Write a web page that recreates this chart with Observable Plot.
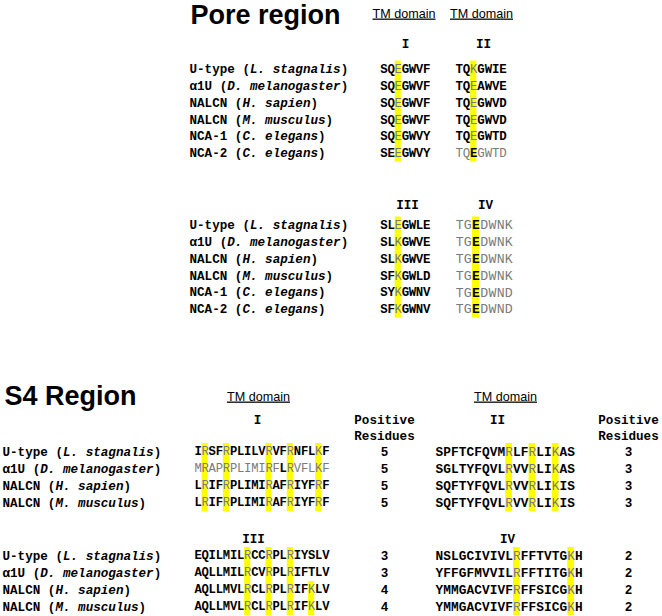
<!DOCTYPE html>
<html><head><meta charset="utf-8">
<script src="https://cdn.jsdelivr.net/npm/d3@7"></script>
<script src="https://cdn.jsdelivr.net/npm/@observablehq/plot@0.6"></script>
<style>body{margin:0;background:#fff}#chart svg{display:block}</style>
</head><body><div id="chart"></div>
<script>
// ---------------- data ----------------
const poreChannels = ["U-type", "α1U", "NALCN", "NALCN", "NCA-1", "NCA-2"];
const poreSpecies = ["L. stagnalis", "D. melanogaster", "H. sapien", "M. musculus", "C. elegans", "C. elegans"];
const poreI   = ["SQEGWVF", "SQEGWVF", "SQEGWVF", "SQEGWVF", "SQEGWVY", "SEEGWVY"];
const poreII  = ["TQKGWIE", "TQEAWVE", "TQEGWVD", "TQEGWVD", "TQEGWTD", "TQEGWTD"];
const poreIII = ["SLEGWLE", "SLKGWVE", "SLKGWVE", "SFKGWLD", "SYKGWNV", "SFKGWNV"];
const poreIV  = ["TGEDWNK", "TGEDWNK", "TGEDWNK", "TGEDWNK", "TGEDWND", "TGEDWND"];
const poreSite = 3;                                   // highlighted (selectivity filter) residue, 1-based
const poreGreyII = [false, false, false, false, false, true];   // sequences printed in grey
const poreGreyIV = [true, true, true, true, true, true];

const s4Channels = ["U-type", "α1U", "NALCN", "NALCN"];
const s4Species = ["L. stagnalis", "D. melanogaster", "H. sapien", "M. musculus"];
const s4I   = ["IRSFRPLILVRVFRNFLKF", "MRAPRPLIMIRFLRVFLKF", "LRIFRPLIMIRAFRIYFRF", "LRIFRPLIMIRAFRIYFRF"];
const s4II  = ["SPFTCFQVMRLFRLIKAS", "SGLTYFQVLRVVRLIKAS", "SQFTYFQVLRVVRLIKIS", "SQFTYFQVLRVVRLIKIS"];
const s4III = ["EQILMILRCCRPLRIYSLV", "AQLLMILRCVRPLRIFTLV", "AQLLMVLRCLRPLRIFKLV", "AQLLMVLRCLRPLRIFKLV"];
const s4IV  = ["NSLGCIVIVLRFFTVTGKH", "YFFGFMVVILRFFTITGKH", "YMMGACVIVFRFFSICGKH", "YMMGACVIVFRFFSICGKH"];
const s4CountI   = [5, 5, 5, 5];
const s4CountII  = [3, 3, 3, 3];
const s4CountIII = [3, 3, 4, 4];
const s4CountIV  = [2, 2, 2, 2];
const s4GreyI = [false, true, false, false];
const s4GreyIBold = [[], [13], [], []];               // residues (1-based) printed bold within a grey sequence
const domainLabels = ["I", "II", "III", "IV"];
const positiveResidues = new Set(["R", "K"]);

// ---------------- layout ----------------
const MONO = "Liberation Mono, Courier New, monospace";
const SANS = "Liberation Sans, Arial, sans-serif";
const NAME_FS = 12.6, NAME_CW = NAME_FS * 0.6;

const names = [], residues = [], labels = [], counts = [];

function addNames(chans, specs, x0, y0, dy) {
  chans.forEach((c, r) => {
    const y = y0 + r * dy, pre = c + " (";
    names.push({x: x0, y, text: pre, italic: false});
    names.push({x: x0 + pre.length * NAME_CW, y, text: specs[r], italic: true});
    names.push({x: x0 + (pre.length + specs[r].length) * NAME_CW, y, text: ")", italic: false});
  });
}
// greyBold: function (row, index, highlighted) -> bold? for residues inside a grey sequence
function addBlock(seqs, x0, cw, fs, y0, dy, isHl, grey, greyBold) {
  seqs.forEach((s, r) => {
    const g = grey ? grey[r] : false;
    [...s].forEach((ch, i) => {
      const hl = isHl(ch, i);
      const bold = g ? greyBold(r, i, hl) : !hl;
      residues.push({x: x0 + (i + 0.5) * cw, y: y0 + r * dy, ch, hl, bold, fs, hw: cw * 0.43, dy});
    });
  });
}
function addCounts(vals, x, y0, dy) {
  vals.forEach((v, r) => counts.push({x, y: y0 + r * dy, text: String(v)}));
}

const poreHl = (ch, i) => i === poreSite - 1;
const s4Hl = (ch) => positiveResidues.has(ch);
const poreGreyBold = (r, i, hl) => hl;
const s4GreyBold = (r, i) => s4GreyIBold[r].includes(i + 1);

// Pore region
const pA = 68.5, pB = 224.5, pDy = 16.85;
addNames(poreChannels, poreSpecies, 189, pA, pDy);
addNames(poreChannels, poreSpecies, 189, pB, pDy);
addBlock(poreI, 380, 7.1, 12.4, pA, pDy, poreHl);
addBlock(poreII, 455, 7.3, 12.4, pA, pDy, poreHl, poreGreyII, poreGreyBold);
addBlock(poreIII, 380, 7.1, 12.4, pB, pDy, poreHl);
addBlock(poreIV, 455, 8.2, 13.2, pB, pDy, poreHl, poreGreyIV, poreGreyBold);
labels.push({x: 405, y: 43, text: domainLabels[0]}, {x: 483, y: 43, text: domainLabels[1]},
            {x: 407, y: 204, text: domainLabels[2]}, {x: 485, y: 204, text: domainLabels[3]});

// S4 region
const sC = 451, sD = 555, sDy = 17;
addNames(s4Channels, s4Species, 2, sC, sDy);
addNames(s4Channels, s4Species, 2, sD, sDy);
addBlock(s4I, 194, 7.1, 12.2, sC, sDy, s4Hl, s4GreyI, s4GreyBold);
addBlock(s4II, 435, 7.75, 12.8, sC, sDy, s4Hl);
addBlock(s4III, 194, 7.1, 12.2, sD, sDy, s4Hl);
addBlock(s4IV, 435, 7.75, 12.8, sD, sDy, s4Hl);
addCounts(s4CountI, 384, sC, sDy);
addCounts(s4CountII, 628, sC, sDy);
addCounts(s4CountIII, 384, sD, sDy);
addCounts(s4CountIV, 628, sD, sDy);
labels.push({x: 257, y: 419, text: domainLabels[0]}, {x: 497, y: 419, text: domainLabels[1]},
            {x: 253, y: 538, text: domainLabels[2]}, {x: 507, y: 538, text: domainLabels[3]});
["Positive", "Residues"].forEach((t, k) => {
  labels.push({x: 384, y: 419 + k * 16, text: t}, {x: 628, y: 419 + k * 16, text: t});
});

const titles = [{x: 190, y: 15, text: "Pore region"}, {x: 4, y: 396, text: "S4 Region"}];
const tm = [{x: 403.5, y: 13}, {x: 481, y: 13}, {x: 258, y: 396}, {x: 505, y: 396}].map(d => ({...d, text: "TM domain"}));

const plot = Plot.plot({
  width: 662, height: 616, margin: 0,
  x: {type: "identity", axis: null}, y: {type: "identity", axis: null},
  style: {background: "white"},
  marks: [
    Plot.rect(residues.filter(d => d.hl), {x1: d => d.x - d.hw, x2: d => d.x + d.hw,
      y1: d => d.y - 8, y2: d => d.y - 8 + d.dy, fill: "#ffff00"}),
    Plot.text(residues.filter(d => d.bold), {x: "x", y: "y", text: "ch", fontSize: "fs",
      fontFamily: MONO, fontWeight: "bold", fill: "#000"}),
    Plot.text(residues.filter(d => !d.bold), {x: "x", y: "y", text: "ch", fontSize: "fs",
      fontFamily: MONO, fontWeight: "normal", fill: "#7a7a7a"}),
    Plot.text(names.filter(d => !d.italic), {x: "x", y: "y", text: "text", textAnchor: "start",
      fontFamily: MONO, fontWeight: "bold", fontSize: NAME_FS, fill: "#000"}),
    Plot.text(names.filter(d => d.italic), {x: "x", y: "y", text: "text", textAnchor: "start",
      fontFamily: MONO, fontWeight: "bold", fontStyle: "italic", fontSize: NAME_FS, fill: "#000"}),
    Plot.text(labels, {x: "x", y: "y", text: "text", fontFamily: MONO, fontWeight: "bold",
      fontSize: NAME_FS, fill: "#000"}),
    Plot.text(counts, {x: "x", y: "y", text: "text", fontFamily: MONO, fontWeight: "bold",
      fontSize: NAME_FS, fill: "#000"}),
    Plot.text(titles, {x: "x", y: "y", text: "text", textAnchor: "start", fontFamily: SANS,
      fontWeight: "bold", fontSize: 27, fill: "#000"}),
    Plot.text(tm, {x: "x", y: "y", text: "text", fontFamily: SANS, fontSize: 12.6, fill: "#000",
      className: "tmlabel"})
  ]
});
d3.select(plot).selectAll(".tmlabel text").style("text-decoration", "underline");
document.getElementById("chart").appendChild(plot);
</script>
</body></html>
